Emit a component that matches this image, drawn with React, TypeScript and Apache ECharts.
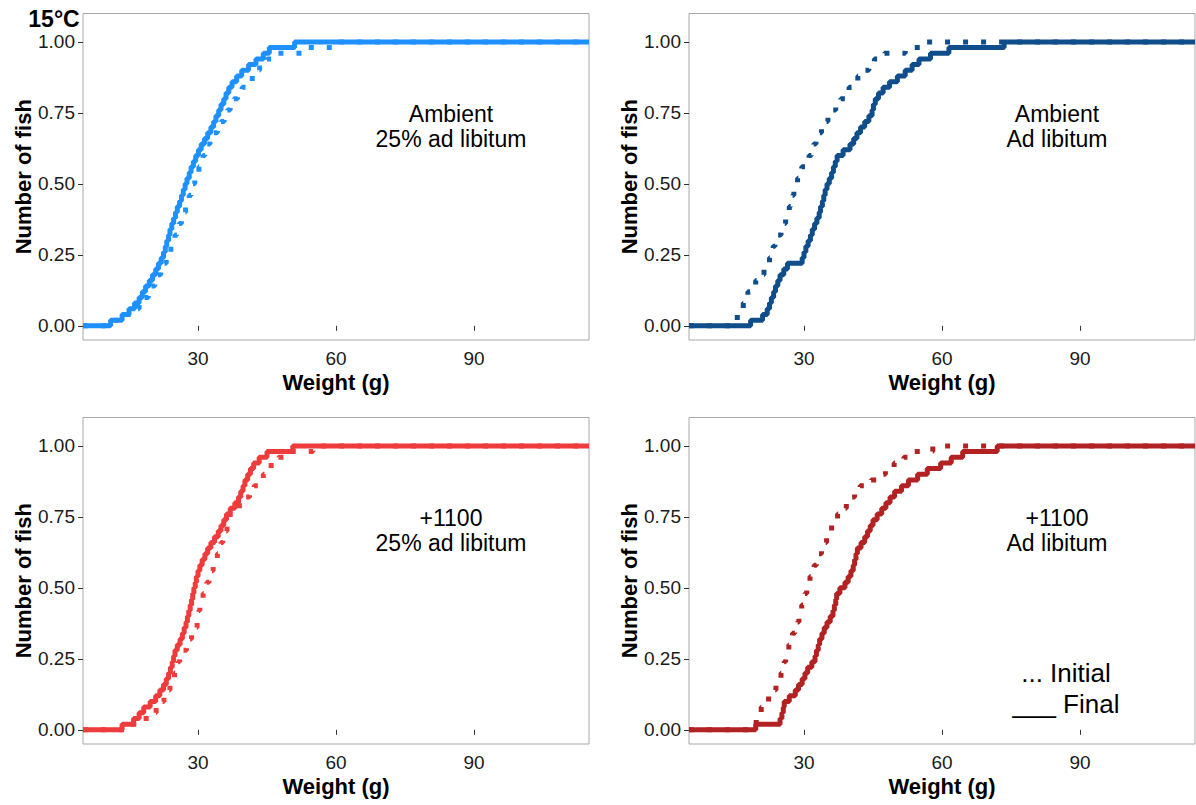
import React, { useEffect, useRef } from "react";
import * as echarts from "echarts";

const X_MIN = 5;
const X_MAX = 115;
const Y_MIN = -0.05;
const Y_MAX = 1.1;
const X_TICKS = [30, 60, 90];
const Y_TICKS = [0, 0.25, 0.5, 0.75, 1];

// Sorted fish weights (g), estimated from the curves (50 fish per group as read)
const AMB_25_INITIAL = [11.8, 14.3, 15.9, 17.2, 18.3, 19.2, 19.9, 20.6, 21.2, 21.9, 22.5, 23.1, 23.6, 24.1, 24.5, 25.0, 25.4, 25.9, 26.4, 26.9, 27.3, 27.7, 28.1, 28.5, 28.9, 29.3, 29.7, 30.2, 30.6, 31.1, 31.5, 32.0, 32.6, 33.4, 34.2, 35.0, 35.7, 36.4, 37.0, 37.8, 38.6, 39.6, 40.8, 41.8, 42.5, 43.4, 45.0, 46.5, 54.0, 60.0];
const AMB_25_FINAL = [11.0, 13.5, 15.0, 16.2, 17.2, 17.9, 18.6, 19.4, 20.1, 20.8, 21.4, 22.0, 22.5, 22.9, 23.2, 23.6, 23.9, 24.3, 24.7, 25.1, 25.5, 26.0, 26.4, 26.8, 27.2, 27.6, 28.1, 28.5, 29.0, 29.5, 30.1, 30.7, 31.4, 32.1, 32.8, 33.4, 33.9, 34.5, 35.0, 35.6, 36.1, 36.7, 37.4, 38.4, 39.5, 41.0, 42.6, 44.2, 45.5, 51.0];
const AMB_AL_INITIAL = [14.8, 15.5, 16.2, 16.8, 17.3, 17.8, 18.5, 19.5, 20.6, 21.3, 21.9, 22.5, 22.9, 23.3, 23.7, 24.3, 25.0, 25.5, 26.0, 26.4, 26.8, 27.1, 27.5, 27.8, 28.2, 28.6, 29.0, 29.5, 30.3, 31.1, 31.6, 32.1, 32.6, 33.2, 33.8, 34.5, 35.2, 35.9, 36.9, 38.0, 39.0, 39.8, 40.6, 41.7, 42.9, 44.1, 45.3, 47.5, 52.0, 56.0];
const AMB_AL_FINAL = [18.4, 21.0, 22.0, 22.5, 22.9, 23.4, 23.8, 24.3, 24.8, 25.6, 26.4, 29.6, 30.0, 30.4, 30.9, 31.4, 31.8, 32.3, 32.8, 33.3, 33.6, 34.0, 34.3, 34.6, 35.0, 35.5, 36.0, 36.4, 36.8, 37.2, 38.5, 40.0, 40.8, 41.5, 42.3, 43.2, 44.1, 44.8, 45.1, 45.5, 46.2, 47.2, 48.6, 50.3, 52.0, 53.5, 55.0, 57.5, 61.5, 73.5];
const CO2_25_INITIAL = [14.5, 17.5, 19.6, 20.9, 21.8, 22.6, 23.3, 23.9, 24.4, 24.9, 25.3, 25.7, 26.0, 26.8, 27.5, 28.1, 28.6, 29.2, 29.8, 30.0, 30.2, 30.4, 30.7, 31.1, 31.5, 31.9, 32.4, 32.9, 33.3, 33.7, 34.2, 34.6, 35.0, 35.4, 35.8, 36.3, 36.7, 37.0, 37.8, 39.0, 40.0, 41.2, 42.2, 43.2, 44.2, 45.0, 45.9, 47.5, 50.5, 55.0];
const CO2_25_FINAL = [13.5, 16.0, 17.2, 18.2, 19.6, 20.8, 21.7, 22.5, 23.1, 23.6, 24.0, 24.4, 24.7, 25.0, 25.5, 26.1, 26.6, 27.0, 27.4, 27.7, 28.0, 28.3, 28.6, 28.85, 29.1, 29.4, 29.65, 30.0, 30.4, 30.9, 31.5, 32.1, 32.8, 33.6, 34.4, 35.0, 35.6, 36.2, 37.0, 38.0, 38.8, 39.3, 39.8, 40.2, 40.8, 41.4, 42.1, 43.3, 45.0, 50.6];
const CO2_AL_INITIAL = [19.3, 19.6, 20.2, 20.7, 21.4, 22.3, 23.2, 23.9, 24.5, 25.0, 25.4, 25.7, 26.0, 26.3, 26.7, 27.0, 27.5, 28.0, 28.6, 28.9, 29.2, 29.5, 29.8, 30.2, 30.6, 30.9, 31.3, 31.8, 32.2, 32.7, 33.2, 33.8, 34.4, 34.9, 35.4, 36.0, 36.6, 37.3, 38.2, 39.2, 40.1, 41.0, 42.2, 44.6, 46.2, 47.7, 49.6, 51.7, 53.5, 58.0];
const CO2_AL_FINAL = [19.5, 24.8, 25.2, 25.5, 25.7, 26.8, 28.1, 28.8, 29.6, 30.2, 30.8, 31.7, 32.4, 32.7, 33.1, 33.4, 33.9, 34.4, 35.0, 35.7, 36.3, 36.6, 36.9, 37.1, 37.8, 38.9, 39.6, 40.2, 40.7, 41.0, 41.3, 41.6, 42.4, 43.2, 43.8, 44.4, 45.0, 45.9, 46.9, 47.8, 48.7, 49.7, 51.2, 52.7, 54.7, 56.8, 59.7, 62.0, 64.5, 72.0];

const PANEL_LABELS = [
  ["Ambient", "25% ad libitum"],
  ["Ambient", "Ad libitum"],
  ["+1100", "25% ad libitum"],
  ["+1100", "Ad libitum"],
];
const PANEL_COLORS = ["#1E90FF", "#104E8B", "#EE3B3B", "#B22222"];
const PANEL_DATA = [
  [AMB_25_INITIAL, AMB_25_FINAL],
  [AMB_AL_INITIAL, AMB_AL_FINAL],
  [CO2_25_INITIAL, CO2_25_FINAL],
  [CO2_AL_INITIAL, CO2_AL_FINAL],
];
const LEGEND_LINES = ["... Initial", "___ Final"];
const TEMP_LABEL = "15°C";
const X_TITLE = "Weight (g)";
const Y_TITLE = "Number of fish";

// layout
const GRID_POS = [
  { left: 83, top: 13.5 },
  { left: 689, top: 13.5 },
  { left: 83, top: 417.5 },
  { left: 689, top: 417.5 },
];
const GRID_W = 506;
const GRID_H = 326.5;
const FONT = "'Liberation Sans', Arial, Helvetica, sans-serif";

function ecdf(w: number[]): number[][] {
  const s = [...w].sort((a, b) => a - b);
  const n = s.length;
  const pts: number[][] = [[X_MIN, 0]];
  s.forEach((v, i) => pts.push([v, (i + 1) / n]));
  pts.push([X_MAX, 1]);
  return pts;
}

export default function App() {
  const ref = useRef<HTMLDivElement>(null);
  useEffect(() => {
    if (!ref.current) return;
    const chart = echarts.init(ref.current, undefined, { renderer: "svg" });

    const grids = GRID_POS.map((g) => ({
      left: g.left,
      top: g.top,
      width: GRID_W,
      height: GRID_H,
      show: true,
      borderColor: "#A8A8A8",
      borderWidth: 1,
      backgroundColor: "#fff",
      containLabel: false,
    }));

    const xAxes = GRID_POS.map((_, i) => ({
      type: "value",
      gridIndex: i,
      min: X_MIN,
      max: X_MAX,
      axisLine: { show: false },
      splitLine: { show: false },
      axisTick: {
        show: true,
        customValues: X_TICKS,
        length: 5,
        lineStyle: { color: "#333", width: 1 },
      },
      axisLabel: {
        show: true,
        customValues: X_TICKS,
        margin: 9,
        color: "#1a1a1a",
        fontSize: 19,
        fontFamily: FONT,
      },
    }));

    const yAxes = GRID_POS.map((_, i) => ({
      type: "value",
      gridIndex: i,
      min: Y_MIN,
      max: Y_MAX,
      axisLine: { show: false },
      splitLine: { show: false },
      axisTick: {
        show: true,
        customValues: Y_TICKS,
        length: 5,
        lineStyle: { color: "#333", width: 1 },
      },
      axisLabel: {
        show: true,
        customValues: Y_TICKS,
        margin: 8,
        color: "#1a1a1a",
        fontSize: 19,
        fontFamily: FONT,
        formatter: (v: number) => v.toFixed(2),
      },
    }));

    const series: any[] = [];
    PANEL_DATA.forEach(([init, fin], i) => {
      series.push({
        type: "line",
        xAxisIndex: i,
        yAxisIndex: i,
        data: ecdf(init),
        step: "end",
        symbol: "none",
        silent: true,
        lineStyle: { color: PANEL_COLORS[i], width: 5, type: [5, 13], cap: "butt" },
        z: 2,
      });
      series.push({
        type: "line",
        xAxisIndex: i,
        yAxisIndex: i,
        data: ecdf(fin),
        step: "end",
        symbol: "none",
        silent: true,
        lineStyle: { color: PANEL_COLORS[i], width: 5, type: "solid" },
        z: 3,
      });
    });

    const graphics: any[] = [];
    graphics.push({
      type: "text",
      x: 54,
      y: 19,
      style: {
        text: TEMP_LABEL,
        font: `bold 23px ${FONT}`,
        fill: "#000",
        align: "center",
        verticalAlign: "middle",
      },
      z: 10,
    });
    GRID_POS.forEach((g, i) => {
      const cx = g.left + GRID_W / 2;
      const cy = g.top + GRID_H / 2;
      graphics.push({
        type: "text",
        x: g.left - 60,
        y: cy,
        rotation: Math.PI / 2,
        style: {
          text: Y_TITLE,
          font: `bold 22px ${FONT}`,
          fill: "#000",
          align: "center",
          verticalAlign: "middle",
        },
      });
      graphics.push({
        type: "text",
        x: cx,
        y: g.top + 368.5,
        style: {
          text: X_TITLE,
          font: `bold 22px ${FONT}`,
          fill: "#000",
          align: "center",
          verticalAlign: "middle",
        },
      });
      PANEL_LABELS[i].forEach((t, k) => {
        graphics.push({
          type: "text",
          x: g.left + 368,
          y: g.top + 100 + k * 25.5,
          style: {
            text: t,
            font: `23px ${FONT}`,
            fill: "#000",
            align: "center",
            verticalAlign: "middle",
          },
        });
      });
    });
    LEGEND_LINES.forEach((t, k) => {
      graphics.push({
        type: "text",
        x: 1066,
        y: 673 + k * 31,
        style: {
          text: t,
          font: `26px ${FONT}`,
          fill: "#000",
          align: "center",
          verticalAlign: "middle",
        },
      });
    });

    chart.setOption({
      animation: false,
      backgroundColor: "#fff",
      grid: grids,
      xAxis: xAxes,
      yAxis: yAxes,
      series,
      graphic: graphics,
    });
    return () => chart.dispose();
  }, []);

  return (
    <div
      ref={ref}
      style={{ position: "absolute", left: 0, top: 0, width: 1196, height: 805 }}
    />
  );
}
